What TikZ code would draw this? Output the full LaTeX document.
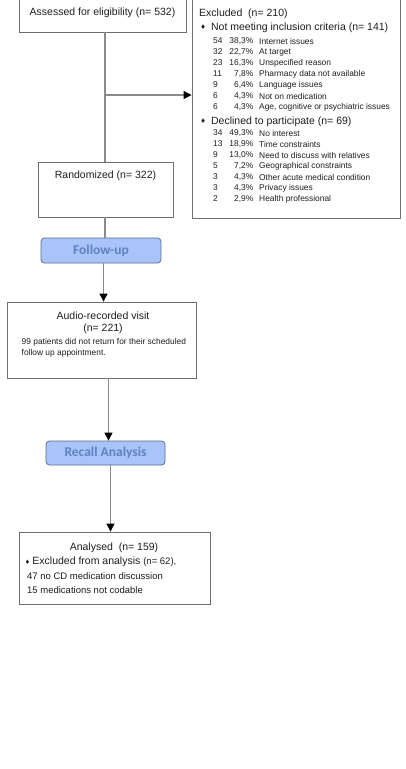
\documentclass[tikz,border=0pt]{standalone}
\usepackage{fontspec}
\setmainfont{Liberation Sans}
\newfontfamily\calfont{Carlito}
\usetikzlibrary{arrows.meta}
\definecolor{boxline}{HTML}{6E6E6E}
\definecolor{conn}{HTML}{8A8A8A}
\definecolor{phasefill}{HTML}{A8C4F8}
\definecolor{phaseline}{HTML}{5A6E90}
\definecolor{phasetext}{HTML}{5F82C2}
\definecolor{txt}{HTML}{1E1E1E}
\tikzset{
  box/.style={draw=boxline, line width=0.9pt, fill=white, inner sep=0pt},
  phase/.style={draw=phaseline, line width=0.8pt, fill=phasefill, rounded corners=3.5pt,
    inner sep=0pt, font=\calfont\bfseries\fontsize{13.5}{14}\selectfont, text=phasetext},
  conline/.style={draw=conn, line width=1.2pt},
  conarrow/.style={draw=conn, line width=1.2pt, -{Triangle[length=8pt,width=8pt,fill=black,color=black]}},
  main/.style={font=\fontsize{10.5}{12}\selectfont, text=txt, inner sep=0pt},
  head/.style={font=\fontsize{10.5}{12}\selectfont, text=txt, inner sep=0pt},
  small/.style={font=\fontsize{8.4}{10}\selectfont, text=txt, inner sep=0pt},
  note/.style={font=\fontsize{9.5}{11}\selectfont, text=txt, inner sep=0pt},
}
\begin{document}
\begin{tikzpicture}[x=1pt,y=-1pt]
\useasboundingbox[fill=white] (0,0) rectangle (405,769);

% boxes
\node[box, minimum width=167pt, minimum height=35pt] (assess) at (102.5,14.5) {};
\node[main] (assesst) at (102.5,13) {Assessed for eligibility (n= 532)};

\node[box, minimum width=208pt, minimum height=221pt] (excl) at (296,107.5) {};

\node[box, minimum width=135pt, minimum height=55pt] (rand) at (105.5,189.5) {};
\node[main] (randt) at (105.5,176) {Randomized (n= 322)};

\node[phase, minimum width=120pt, minimum height=25pt] (fu) at (101,250.5) {Follow-up};

\node[box, minimum width=189pt, minimum height=76pt] (audio) at (101.5,340) {};
\node[main] (audiot1) at (103,316) {Audio-recorded visit};
\node[main] (audiot2) at (103,329) {(n= 221)};
\node[small, anchor=west] (audiot3) at (21.5,342) {99 patients did not return for their scheduled};
\node[small, anchor=west] (audiot4) at (21.5,353.5) {follow up appointment.};

\node[phase, minimum width=119pt, minimum height=24pt] (recall) at (105.5,453) {Recall Analysis};

\node[box, minimum width=191pt, minimum height=72pt] (anal) at (114.5,568) {};
\node[main] (analt1) at (114,548) {Analysed\ \ (n= 159)};
\node[main, anchor=west] (analt2) at (25.5,562) {{\fontsize{7.5}{8}\selectfont\raisebox{0.5pt}{♦}} Excluded from analysis {\fontsize{9.5}{10}\selectfont(n= 62),}};
\node[note, anchor=west] (analt3) at (27,576) {47 no CD medication discussion};
\node[note, anchor=west] (analt4) at (27,590) {15 medications not codable};

% excluded contents
\node[main, anchor=west] (exclt) at (199,14) {Excluded\ \ (n= 210)};
\node[head, anchor=west] (crit1) at (201,28) {{\fontsize{8}{8}\selectfont\raisebox{1pt}{♦}}\ \ Not meeting inclusion criteria (n= 141)};
\foreach \n/\p/\l [count=\i] in {54/{38,3\%}/Internet issues, 32/{22,7\%}/At target, 23/{16,3\%}/Unspecified reason, 11/{7,8\%}/Pharmacy data not available, 9/{6,4\%}/Language issues, 6/{4,3\%}/Not on medication, 6/{4,3\%}/{Age, cognitive or psychiatric issues}}{
  \node[small, anchor=west] (an\i) at (213,30+11*\i) {\n};
  \node[small, anchor=east] (ap\i) at (253.5,30+11*\i) {\p};
  \node[small, anchor=west] (al\i) at (259,30+11*\i) {\l};
}
\node[head, anchor=west] (crit2) at (201,122) {{\fontsize{8}{8}\selectfont\raisebox{1pt}{♦}}\ \ Declined to participate (n= 69)};
\foreach \n/\p/\l [count=\i] in {34/{49,3\%}/No interest, 13/{18,9\%}/Time constraints, 9/{13,0\%}/Need to discuss with relatives, 5/{7,2\%}/Geographical constraints, 3/{4,3\%}/Other acute medical condition, 3/{4,3\%}/Privacy issues, 2/{2,9\%}/Health professional}{
  \node[small, anchor=west] (bn\i) at (213,122+11*\i) {\n};
  \node[small, anchor=east] (bp\i) at (253.5,122+11*\i) {\p};
  \node[small, anchor=west] (bl\i) at (259,122+11*\i) {\l};
}

% connectors
\coordinate (split) at (105,95);
\draw[conline] (105,0 |- assess.south) -- (105,0 |- rand.north);
\draw[conarrow] (split) -- (split -| excl.west);
\draw[conline] (105,0 |- rand.south) -- (105,0 |- fu.north);
\draw[conarrow] (103.5,0 |- fu.south) -- (103.5,0 |- audio.north);
\draw[conarrow] (108.5,0 |- audio.south) -- (108.5,0 |- recall.north);
\draw[conarrow] (110.5,0 |- recall.south) -- (110.5,0 |- anal.north);
\end{tikzpicture}
\end{document}
